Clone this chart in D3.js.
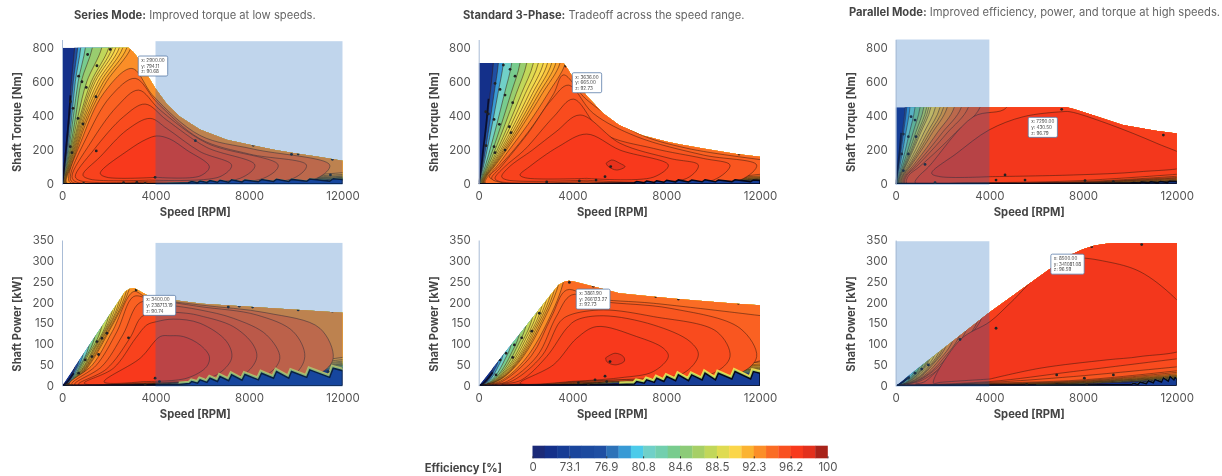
<!DOCTYPE html>
<html>
<head>
<meta charset="utf-8">
<script src="https://cdn.jsdelivr.net/npm/d3@7"></script>
<style>
  html, body { margin: 0; background: #fff; }
  svg { display: block; filter: blur(0.55px); font-family: Inter, "Open Sans", sans-serif; }
</style>
</head>
<body>
<div id="chart"></div>
<script>
// -----------------------------
// Shared axis values and colour bar
// -----------------------------
const speedTicks = [0, 4000, 8000, 12000];
const torqueTicks = [0, 200, 400, 600, 800];
const powerTicks = [0, 50, 100, 150, 200, 250, 300, 350];
const binColors = ["#1b2a78", "#14308a", "#163c95", "#1a459c", "#1c4a9f", "#1f4fa3", "#2d72b8", "#389ad5",
    "#4ccbea", "#70d0c8", "#72cfae", "#78cc8e", "#8ccb78", "#a6cf66", "#c1d75a", "#dfdb52",
    "#fbd64a", "#fbb331", "#fb8e28", "#fa6c24", "#f9501f", "#f8391c", "#e3301c", "#a8231a"];
const efficiencyLabels = ["0", "73.1", "76.9", "80.8", "84.6", "88.5", "92.3", "96.2", "100"];

// -----------------------------
// SERIES MODE - torque: [rpm, Nm], rings are [colour level, outline]
// -----------------------------
const seriesTorqueEnvelope = [[0,0],[0,800],[2850,800],[3050,775],[3300,730],[3600,650],[4000,560],[4480,470],[5050,395],[5900,320],[7044,260],[8182,226],[9178,198],[10175,176],[11028,158],[12000,137],[12000,0]];
const seriesTorqueRings = [
    [5,[[12500,24],[9000,14],[5000,4],[30,3],[40,50],[80,100],[160,200],[290,400],[400,600],[540,800],[600,950],[12500,950]]],
    [7,[[12500,26],[9000,16],[5000,5],[45,3],[60,50],[110,100],[210,200],[350,400],[480,600],[670,800],[730,950],[12500,950]]],
    [9,[[12500,28],[9000,17],[5000,5],[60,3],[75,50],[140,100],[250,200],[420,400],[570,600],[800,800],[860,950],[12500,950]]],
    [11,[[12500,30],[9000,19],[5000,6],[75,3],[90,50],[170,100],[290,200],[490,400],[690,600],[1000,800],[1070,950],[12500,950]]],
    [12.5,[[12500,32],[9000,21],[5000,6],[95,3],[110,50],[200,100],[340,200],[590,400],[820,600],[1300,800],[1380,950],[12500,950]]],
    [14,[[12500,34],[9000,23],[5000,7],[115,4],[130,50],[230,100],[380,200],[690,400],[1060,600],[1700,800],[1790,950],[12500,950]]],
    [15,[[12500,38],[9000,25],[5000,7],[135,4],[150,50],[260,100],[420,200],[780,400],[1250,600],[2000,800],[2100,950],[12500,950]]],
    [15.5,[[12500,41],[9000,26],[5000,7.5],[145,4],[160,50],[280,100],[450,200],[830,400],[1335,600],[2150,800],[2250,950],[12500,950]]],
    [16,[[12500,44],[9000,27],[5000,8],[155,4],[170,50],[300,100],[480,200],[880,400],[1420,600],[2300,800],[2400,950],[12500,950]]],
    [16.5,[[12500,48],[9000,28],[5000,8.5],[170,4],[185,50],[320,100],[510,200],[940,400],[1535,600],[2450,800],[2550,950],[12500,950]]],
    [17,[[12500,52],[9000,30],[5000,9],[185,4],[200,50],[340,100],[540,200],[1000,400],[1650,600],[2600,800],[2700,950],[12500,950]]],
    [17.5,[[12500,60],[9000,33],[5000,9.5],[200,4.5],[215,50],[370,100],[580,200],[1075,400],[1775,600],[2775,800],[2870,950],[12500,950]]],
    [18,[[12500,72],[9000,36],[5000,10],[215,5],[230,50],[400,100],[620,200],[1150,400],[1900,600],[2950,800],[3050,950],[12500,950]]],
    [18.5,[[2988,6],[350,8],[285,43],[783,239],[1779,532],[2988,678],[3913,515],[5905,285],[8182,205],[11455,111],[10886,33],[2988,6]]],
    [19,[[3130,7],[450,10],[356,43],[996,258],[2063,512],[3130,620],[4056,480],[5905,265],[8040,175],[10459,111],[9890,33],[3130,7]]],
    [19.5,[[3273,9],[600,12],[427,43],[1210,239],[2348,454],[3273,551],[4198,434],[6190,240],[9250,111],[8609,33],[3273,9]]],
    [20,[[3557,14],[800,18],[569,43],[1352,199],[2633,395],[3557,469],[4482,375],[6190,215],[8253,111],[7613,33],[3557,14]]],
    [20.5,[[3771,23],[1200,28],[896,53],[1636,160],[2775,317],[3771,385],[4482,326],[5905,190],[7257,111],[6759,43],[3771,23]]],
    [21,[[4056,39],[1900,40],[1636,63],[2846,199],[3600,262],[4056,282],[4600,265],[5336,199],[6304,102],[5905,47],[4056,39]]]
];
const seriesTorqueTeeth = [[0,2],[3000,2],[4500,3],[5400,7],[5550,14],[5800,8],[5905,17],[6200,9],[6330,20],[6650,10],[6760,22],[7130,11],[7257,25],[7700,12],[7826,24],[8400,13],[8537,26],[9050,15],[9178,28],[9700,15],[9818,27],[10470,16],[10600,29],[11450,17],[11600,31],[12000,26],[12000,0],[0,0]];
const seriesTorqueEdge = [[20,0],[60,50],[100,100],[170,200],[300,400],[360,520]];
const seriesTorqueMarkers = [[1096,760],[2063,790],[1494,694],[711,633],[854,600],[1039,567],[1451,512],[683,385],[896,352],[356,219],[427,184],[1466,194],[470,444],[356,483],[3984,39],[5706,254],[8182,227],[9819,174],[10103,176],[11569,145],[11484,53],[3202,10],[3557,4],[2633,8],[925,4]];
const seriesTorqueTip = { at: [3262, 751], text: ["x: 2900.00", "y: 794.11", "z: 90.68"] };

// -----------------------------
// SERIES MODE - power: [rpm, kW]
// -----------------------------
const seriesPowerEnvelope = [[0,0],[2700,226],[2900,233],[3100,234],[3300,228],[3630,218],[4000,212],[5000,204],[6000,197],[7000,193],[8200,189],[9000,186],[10200,182],[11000,179],[12000,175],[12000,0]];
const seriesPowerRings = [
    [5,[[12500,40],[9000,26],[5000,5],[70,.5],[160,3.4],[290,12],[400,25],[540,45],[620,400],[12500,400]]],
    [7,[[12500,42],[9000,28],[5000,5],[85,.5],[210,4.4],[370,15.5],[520,33],[720,60],[800,400],[12500,400]]],
    [9,[[12500,44],[9000,30],[5000,6],[100,.5],[260,5.4],[440,18],[640,40],[900,75],[980,400],[12500,400]]],
    [11,[[12500,45],[9000,31],[5000,6],[120,.6],[300,6],[520,22],[770,48],[1150,96],[1230,400],[12500,400]]],
    [12.5,[[12500,47],[9000,33],[5000,7],[140,.7],[340,7],[600,25],[890,56],[1400,117],[1480,400],[12500,400]]],
    [14,[[12500,50],[9000,36],[5000,8],[160,.8],[380,8],[690,29],[1060,67],[1700,142],[1790,400],[12500,400]]],
    [15,[[12500,52],[9000,37],[5000,8],[180,.9],[420,9],[780,33],[1250,79],[2000,168],[2100,400],[12500,400]]],
    [15.5,[[12500,54],[9000,37],[5000,8],[190,1],[450,9.5],[830,35],[1335,84],[2150,180],[2250,400],[12500,400]]],
    [16,[[12500,56],[9000,38],[5000,9],[200,1],[480,10],[880,37],[1420,89],[2300,193],[2400,400],[12500,400]]],
    [16.5,[[12500,59],[9000,39],[5000,9],[215,1.1],[510,10.5],[940,39],[1535,96],[2450,205],[2560,400],[12500,400]]],
    [17,[[12500,62],[9000,40],[5000,10],[230,1.2],[540,11],[1000,42],[1650,104],[2600,218],[2720,400],[12500,400]]],
    [17.5,[[12500,66],[9000,42],[5000,10],[245,1.3],[580,12],[1075,45],[1775,111],[2775,232],[2880,400],[12500,400]]],
    [18,[[12500,72],[9000,44],[5000,11],[260,1.4],[620,13],[1150,48],[1900,119],[2950,247],[3050,400],[12500,400]]],
    [18.5,[[8040,14],[3000,7],[320,4],[1300,50],[2150,130],[3060,226],[3630,212],[5905,194],[8750,175],[11030,138],[11600,66],[11030,30],[8040,14]]],
    [19,[[7328,14],[3000,6],[420,3.5],[1450,48],[2350,130],[3060,214],[3771,208],[5905,190],[8325,170],[9890,130],[10387,70],[9890,26],[7328,14]]],
    [19.5,[[6617,11],[3000,5],[540,3],[1700,46],[2600,122],[3344,200],[4482,194],[5905,182],[7328,162],[8750,122],[9320,66],[8750,26],[6617,11]]],
    [20,[[6190,10],[3000,5],[700,3],[1900,40],[2900,114],[3415,166],[4056,176],[5336,174],[5905,168],[7328,142],[8182,98],[8325,66],[7755,26],[6190,10]]],
    [20.5,[[5336,10],[3000,6],[950,6],[2200,42],[3150,114],[3630,146],[4056,154],[4767,160],[5905,150],[7044,106],[7257,66],[6617,26],[5336,10]]],
    [21,[[3500,10],[1800,9],[3344,66],[4198,118],[4625,120],[5194,118],[5905,98],[6304,70],[6190,46],[5336,18],[3500,10]]]
];
const seriesPowerTeeth = [[0,1],[2000,1.5],[4000,2],[5000,3],[5450,5],[5550,10],[5800,6],[5905,14],[6200,8],[6330,18],[6650,10],[6760,22],[7130,12],[7257,26],[7700,13],[7826,27],[8400,14],[8537,30],[9050,18],[9178,34],[9700,18],[9818,34],[10470,20],[10600,38],[11450,20],[11600,42],[12000,36],[12000,0],[0,0]];
const seriesPowerEdge = [[0,0],[200,8],[500,30]];
const seriesPowerMarkers = [[3173,230],[2846,115],[1921,126],[1708,114],[1494,106],[1565,75],[1281,70],[996,62],[711,30],[7115,189],[7585,191],[8154,189],[10103,182],[11569,179],[3984,18],[4169,10],[3557,2],[11384,34]];
const seriesPowerTip = { at: [3472, 217], text: ["x: 3400.00", "y: 238713.19", "z: 90.74"] };

// -----------------------------
// STANDARD 3-PHASE - torque
// -----------------------------
const standardTorqueEnvelope = [[0,0],[0,710],[3620,710],[3780,680],[4040,620],[4600,520],[5300,415],[6000,345],[7000,285],[8000,250],[8500,235],[9700,205],[11000,176],[12000,160],[12000,0]];
const standardTorqueRings = [
    [5,[[12500,20],[9000,13],[5000,4],[40,3],[66,50],[118,100],[213,200],[343,350],[488,530],[626,710],[680,900],[12500,900]]],
    [7,[[12500,22],[9000,14],[5000,5],[55,3],[88,50],[159,100],[285,200],[460,350],[654,530],[839,710],[890,900],[12500,900]]],
    [9,[[12500,24],[9000,15],[5000,5],[70,3],[110,50],[199,100],[358,200],[576,350],[820,530],[1052,710],[1110,900],[12500,900]]],
    [11,[[12500,25],[9000,16],[5000,6],[95,3],[148,50],[266,100],[479,200],[772,350],[1098,530],[1408,710],[1470,900],[12500,900]]],
    [12.5,[[12500,27],[9000,17],[5000,6],[125,3],[185,50],[333,100],[599,200],[966,350],[1375,530],[1763,710],[1830,900],[12500,900]]],
    [14,[[12500,29],[9000,18],[5000,7],[145,4],[215,50],[387,100],[697,200],[1123,350],[1599,530],[2050,710],[2120,900],[12500,900]]],
    [15,[[12500,31],[9000,19],[5000,7],[165,4],[245,50],[441,100],[793,200],[1278,350],[1819,530],[2332,710],[2400,900],[12500,900]]],
    [15.5,[[12500,32],[9000,20],[5000,7],[180,4],[267,50],[481,100],[865,200],[1395,350],[1985,530],[2545,710],[2620,900],[12500,900]]],
    [16,[[12500,34],[9000,21],[5000,8],[195,4],[290,50],[521,100],[938,200],[1512,350],[2152,530],[2759,710],[2840,900],[12500,900]]],
    [16.5,[[12500,36],[9000,22],[5000,8],[210,4],[308,50],[555,100],[998,200],[1609,350],[2290,530],[2936,710],[3020,900],[12500,900]]],
    [17,[[12500,38],[9000,23],[5000,8],[225,4],[327,50],[589,100],[1059,200],[1706,350],[2429,530],[3114,710],[3200,900],[12500,900]]],
    [17.5,[[12500,41],[9000,24],[5000,8.5],[240,4.5],[345,50],[622,100],[1120,200],[1804,350],[2568,530],[3292,710],[3380,900],[12500,900]]],
    [18,[[12500,44],[9000,26],[5000,9],[255,5],[364,50],[656,100],[1180,200],[1902,350],[2707,530],[3470,710],[3560,900],[12500,900]]],
    [18.5,[[12500,50],[9000,28],[5000,10],[285,5],[420,50],[750,100],[1300,200],[2100,350],[2950,530],[3700,710],[3800,900],[12500,900]]],
    [19,[[12500,65],[10000,30],[6000,11],[2000,6],[460,40],[850,100],[1500,200],[2350,350],[3200,530],[3612,640],[4607,495],[6740,300],[8873,210],[12500,135]]],
    [19.5,[[6800,9],[1000,8],[555,33],[950,100],[2100,297],[3100,493],[3825,580],[4892,414],[6740,278],[9584,170],[11859,111],[11148,23],[6800,9]]],
    [20,[[4607,14],[900,14],[697,33],[1100,100],[1950,200],[3200,395],[4038,498],[5318,297],[7451,209],[9584,150],[10722,111],[10011,23],[4607,14]]],
    [20.5,[[4607,22],[1200,24],[981,43],[1300,100],[2300,200],[3300,307],[4323,405],[6029,239],[8162,150],[9371,111],[8873,33],[4607,22]]],
    [21,[[4607,33],[2000,36],[1763,53],[2150,100],[3400,219],[4607,293],[6029,199],[8091,111],[7451,40],[4607,33]]],
    [22,[[5432,121],[5674,141],[6029,121],[6242,102],[5887,82],[5532,102],[5432,121]]]
];
const standardTorqueTeeth = [[0,2],[3000,2],[5000,3],[6640,8],[6740,14],[7060,8],[7166,17],[7490,9],[7593,19],[7900,10],[8020,22],[8400,12],[8518,24],[8950,12],[9087,23],[9530,13],[9655,25],[10100,13],[10224,24],[10800,14],[10935,25],[11600,14],[11717,24],[12000,20],[12000,0],[0,0]];
const standardTorqueEdge = [[20,0],[60,50],[110,100],[190,200],[320,350],[420,500]];
const standardTorqueMarkers = [[3711,692],[1052,698],[1337,673],[1550,633],[697,590],[910,555],[1123,522],[1450,477],[300,424],[412,411],[654,379],[882,350],[1308,336],[1379,301],[313,225],[654,219],[697,184],[1123,199],[5631,102],[5389,43],[5005,23],[4294,18],[2900,12],[8518,242],[11106,176]];
const standardTorqueTip = { at: [3994, 653], text: ["x: 3636.00", "y: 665.00", "z: 92.73"] };

// -----------------------------
// STANDARD 3-PHASE - power
// -----------------------------
const standardPowerEnvelope = [[0,0],[3400,242],[3650,250],[3850,252],[4100,250],[4900,238],[6000,222],[7600,213],[8500,208],[11000,197],[12000,193],[12000,0]];
const standardPowerRings = [
    [5,[[12500,30],[9000,22],[5000,4],[50,.4],[118,1.2],[213,4.5],[343,12.6],[488,27],[626,46],[680,400],[12500,400]]],
    [7,[[12500,32],[9000,23],[5000,4],[70,.5],[159,2.6],[285,6],[460,17],[654,36],[839,62],[900,400],[12500,400]]],
    [9,[[12500,34],[9000,25],[5000,5],[85,.5],[199,2.8],[358,7.5],[576,21],[820,45],[1052,78],[1120,400],[12500,400]]],
    [11,[[12500,36],[9000,26],[5000,5],[110,.6],[266,2.8],[479,10],[772,28],[1098,61],[1408,105],[1470,400],[12500,400]]],
    [12.5,[[12500,38],[9000,28],[5000,6],[140,.7],[333,3.5],[599,12.5],[966,35],[1375,76],[1763,131],[1830,400],[12500,400]]],
    [14,[[12500,40],[9000,29],[5000,6],[160,.8],[387,4],[697,15],[1123,41],[1599,89],[2050,152],[2130,400],[12500,400]]],
    [15,[[12500,42],[9000,30],[5000,7],[180,.9],[441,4.6],[793,17],[1278,47],[1819,101],[2332,173],[2410,400],[12500,400]]],
    [15.5,[[12500,43],[9000,31],[5000,7],[195,1],[481,5],[865,18.5],[1395,51],[1985,110],[2545,189],[2630,400],[12500,400]]],
    [16,[[12500,45],[9000,32],[5000,8],[210,1],[521,5.5],[938,20],[1512,55],[2152,119],[2759,205],[2850,400],[12500,400]]],
    [16.5,[[12500,47],[9000,33],[5000,8],[225,1.1],[555,5.8],[998,21],[1609,58],[2290,127],[2936,218],[3030,400],[12500,400]]],
    [17,[[12500,50],[9000,34],[5000,8],[240,1.2],[589,6],[1059,22],[1706,62],[2429,135],[3114,231],[3220,400],[12500,400]]],
    [17.5,[[12500,52],[9000,35],[5000,8.5],[255,1.3],[622,6.5],[1120,23.5],[1804,66],[2568,142],[3292,245],[3390,400],[12500,400]]],
    [18,[[12500,55],[9000,36],[5000,9],[270,1.4],[656,7],[1180,25],[1902,70],[2707,150],[3470,258],[3560,400],[12500,400]]],
    [18.5,[[12500,60],[9000,38],[5000,10],[300,1.5],[800,8],[1350,27],[2100,72],[2950,155],[3650,258],[3800,400],[12500,400]]],
    [19,[[12500,68],[10000,32],[6000,12],[2000,4],[420,2],[1000,10],[2250,72],[3100,165],[3754,230],[4892,210],[7451,198],[12500,165]]],
    [19.5,[[8162,15],[3000,6],[555,2],[1200,10],[2500,72],[3300,165],[3967,218],[5318,202],[8162,186],[11148,138],[11859,70],[11148,30],[8162,15]]],
    [20,[[7451,18],[3000,7],[697,2],[1450,12],[2700,72],[3470,154],[3896,170],[5318,182],[7451,166],[10153,130],[10722,70],[10011,30],[7451,18]]],
    [20.5,[[6740,16],[3000,8],[981,3],[1800,13],[2900,70],[3754,138],[4181,158],[5318,168],[7451,146],[9015,106],[9371,74],[8731,30],[6740,16]]],
    [21,[[3896,10],[1763,6],[3185,50],[4181,114],[5034,142],[6740,118],[7878,90],[8091,70],[7451,34],[6029,19],[3896,10]]],
    [22,[[5418,67],[5816,78],[6171,70],[6214,59],[5816,50],[5460,58],[5418,67]]]
];
const standardPowerTeeth = [[0,1],[2000,1.5],[4000,2],[6000,3],[6640,4],[6740,10],[7060,6],[7166,14],[7490,8],[7593,18],[7900,10],[8020,22],[8400,12],[8518,26],[8950,12],[9087,26],[9530,14],[9655,30],[10100,14],[10224,30],[10800,16],[10935,34],[11600,16],[11717,34],[12000,30],[12000,0],[0,0]];
const standardPowerEdge = [[0,0],[200,6],[600,32]];
const standardPowerMarkers = [[3868,248],[4892,239],[7551,214],[8518,208],[11077,198],[2588,174],[2261,131],[1834,115],[1522,98],[1450,68],[1166,78],[910,62],[739,26],[5603,58],[5389,23],[4963,14],[5460,10],[4252,7],[4678,2]];
const standardPowerTip = { at: [4160, 232], text: ["x: 3861.90", "y: 266123.27", "z: 92.73"] };

// -----------------------------
// PARALLEL MODE - torque
// -----------------------------
const parallelTorqueEnvelope = [[0,0],[0,450],[7300,450],[7600,440],[8500,400],[9700,346],[11100,313],[12000,297],[12000,0]];
const parallelTorqueRings = [
    [5,[[12500,14],[8000,5],[3000,2],[40,2],[62,50],[111,100],[201,200],[283,300],[400,450],[460,700],[12500,700]]],
    [7,[[12500,15],[8000,5],[3000,2],[50,2],[72,50],[131,100],[236,200],[333,300],[470,450],[530,700],[12500,700]]],
    [9,[[12500,16],[8000,6],[3000,2],[70,2],[94,50],[170,100],[306,200],[432,300],[610,450],[670,700],[12500,700]]],
    [11,[[12500,17],[8000,6],[3000,3],[100,2],[127,50],[229,100],[414,200],[584,300],[825,450],[880,700],[12500,700]]],
    [12.5,[[12500,18],[8000,7],[3000,3],[130,3],[160,50],[289,100],[522,200],[736,300],[1040,450],[1100,700],[12500,700]]],
    [14,[[12500,19],[8000,7],[3000,3],[150,3],[185,50],[334,100],[602,200],[850,300],[1200,450],[1260,700],[12500,700]]],
    [15,[[12500,20],[8000,8],[3000,3],[170,3],[204,50],[368,100],[665,200],[937,300],[1324,450],[1390,700],[12500,700]]],
    [15.5,[[12500,21],[8000,8],[3000,3.5],[180,3],[217,50],[392,100],[709,200],[1000,300],[1412,450],[1480,700],[12500,700]]],
    [16,[[12500,22],[8000,8],[3000,4],[190,3],[231,50],[417,100],[753,200],[1062,300],[1500,450],[1570,700],[12500,700]]],
    [16.5,[[12500,24],[8000,8.5],[3000,4],[215,3.5],[260,50],[470,100],[850,200],[1200,300],[1696,450],[1770,700],[12500,700]]],
    [17,[[12500,26],[8000,9],[3000,4],[240,4],[292,50],[526,100],[950,200],[1340,300],[1893,450],[1970,700],[12500,700]]],
    [17.5,[[12500,28],[8000,9.5],[3000,4],[260,4],[315,50],[570,100],[1027,200],[1450,300],[2046,450],[2125,700],[12500,700]]],
    [18,[[12500,30],[8000,10],[3000,4],[280,4],[339,50],[612,100],[1104,200],[1558,300],[2200,450],[2280,700],[12500,700]]],
    [18.5,[[12500,34],[8000,11],[3000,5],[320,4],[385,50],[695,100],[1255,200],[1770,300],[2500,450],[2580,700],[12500,700]]],
    [19,[[12500,38],[8000,12],[3000,5],[360,4],[431,50],[778,100],[1406,200],[1982,300],[2800,450],[2880,700],[12500,700]]],
    [19.5,[[12500,42],[8000,13],[3000,5],[400,4],[477,50],[862,100],[1556,200],[2195,300],[3100,450],[3180,700],[12500,700]]],
    [20,[[12500,50],[8000,14],[3000,6],[470,5],[554,50],[1000,100],[1807,200],[2549,300],[3600,450],[3700,700],[12500,700]]],
    [20.7,[[12500,62],[7587,18],[3000,7],[830,7],[968,43],[1400,100],[3317,395],[4740,450],[4900,700],[12500,700]]],
    [21.3,[[4028,43],[1893,43],[1537,63],[2605,180],[3986,317],[5452,395],[7089,424],[7445,424],[9011,356],[11145,239],[12500,150],[12500,110],[10434,72],[7587,53],[4028,43]]]
];
const parallelTorqueTeeth = [[0,3],[6000,3],[9000,4],[10000,5],[10150,9],[10400,6],[10500,11],[10800,7],[10900,13],[11200,8],[11300,15],[11600,9],[11700,16],[12000,15],[12000,0],[0,0]];
const parallelTorqueEdge = [[20,0],[50,50],[90,100],[170,200],[230,300]];
const parallelTorqueMarkers = [[655,395],[826,375],[327,293],[541,278],[868,278],[256,176],[541,176],[327,78],[1253,115],[4285,23],[4669,53],[5523,23],[1680,8],[7089,438],[11431,287],[8085,20],[9296,14]];
const parallelTorqueTip = { at: [5660, 391], text: ["x: 7290.00", "y: 430.50", "z: 96.79"] };

// -----------------------------
// PARALLEL MODE - power
// -----------------------------
const parallelPowerEnvelope = [[0,0],[4000,176],[6700,285],[7000,298],[7500,315],[8000,328],[8500,337],[9000,341],[9500,343],[12000,343],[12000,0]];
const parallelPowerRings = [
    [5,[[12500,16],[8000,5],[3000,1.5],[40,.4],[111,1.1],[201,4.2],[283,8.9],[400,19],[440,400],[12500,400]]],
    [7,[[12500,17],[8000,5],[3000,1.5],[50,.4],[131,1.3],[236,5],[333,10.5],[470,22],[510,400],[12500,400]]],
    [9,[[12500,18],[8000,6],[3000,2],[70,.4],[170,1.8],[306,6.4],[432,13.6],[610,29],[650,400],[12500,400]]],
    [11,[[12500,19],[8000,6],[3000,2],[90,.5],[229,2.4],[414,8.7],[584,18],[825,39],[870,400],[12500,400]]],
    [12.5,[[12500,20],[8000,7],[3000,2],[110,.6],[289,3],[522,11],[736,23],[1040,49],[1090,400],[12500,400]]],
    [14,[[12500,21],[8000,7],[3000,2],[130,.7],[334,3.5],[602,12.6],[850,27],[1200,57],[1250,400],[12500,400]]],
    [15,[[12500,22],[8000,8],[3000,2.5],[150,.8],[368,3.9],[665,14],[937,29],[1324,62],[1380,400],[12500,400]]],
    [15.5,[[12500,22.5],[8000,8],[3000,2.7],[160,.8],[392,4.1],[709,15],[1000,31],[1412,66],[1470,400],[12500,400]]],
    [16,[[12500,23],[8000,8],[3000,3],[170,.9],[417,4.4],[753,16],[1062,33],[1500,71],[1560,400],[12500,400]]],
    [16.5,[[12500,24],[8000,8.5],[3000,3],[185,1],[470,5],[850,18],[1200,38],[1696,80],[1770,400],[12500,400]]],
    [17,[[12500,25],[8000,9],[3000,3],[200,1],[526,5.5],[950,20],[1340,42],[1893,89],[1970,400],[12500,400]]],
    [17.5,[[12500,26.5],[8000,9.5],[3000,3],[215,1.1],[570,6],[1027,21.5],[1450,45.5],[2046,96],[2125,400],[12500,400]]],
    [18,[[12500,28],[8000,10],[3000,3],[230,1.2],[612,6.4],[1104,23],[1558,49],[2200,104],[2280,400],[12500,400]]],
    [18.5,[[12500,31],[8000,11],[3000,4],[260,1.4],[695,7],[1255,26],[1770,56],[2500,118],[2580,400],[12500,400]]],
    [19,[[12500,35],[8000,12],[3000,4],[300,1.5],[778,8],[1406,29],[1982,62],[2800,132],[2880,400],[12500,400]]],
    [19.5,[[12500,39],[8000,14],[3000,5],[340,1.8],[862,9],[1556,33],[2195,69],[3100,146],[3180,400],[12500,400]]],
    [20,[[12500,48],[7587,22],[4028,8],[500,3],[1000,10],[1807,38],[2549,80],[3600,170],[3700,400],[12500,400]]],
    [20.7,[[12500,68],[7587,34],[4028,10],[850,4],[1250,10],[2605,90],[3601,154],[5000,400],[12500,400]]],
    [21.3,[[4028,16],[1900,8],[1609,6],[2747,110],[4028,154],[4883,198],[6449,282],[7587,306],[9011,298],[10434,274],[11858,214],[12500,170],[12500,95],[10434,70],[9011,62],[6164,42],[4028,16]]]
];
const parallelPowerTeeth = [[0,1],[6000,1.5],[9000,2],[10050,2],[10150,6],[10350,3],[10434,9],[10700,5],[10790,12],[11000,7],[11075,15],[11350,9],[11431,19],[11640,11],[11716,22],[11880,14],[11929,20],[12000,17],[12000,0],[0,0]];
const parallelPowerEdge = [[0,0],[200,5],[600,22]];
const parallelPowerMarkers = [[2747,111],[4285,138],[1395,50],[1110,40],[826,30],[541,18],[8370,334],[10505,339],[6875,26],[8057,18],[9296,26],[5594,3],[6875,3],[8157,2]];
const parallelPowerTip = { at: [6626, 316], text: ["x: 8500.00", "y: 341081.08", "z: 96.59"] };

// Shaded inactive speed bands: [from rpm, to rpm, top value]
const seriesTorqueShade = [4000, 12000, 838];
const seriesPowerShade = [4000, 12000, 343];
const parallelTorqueShade = [0, 4000, 848];
const parallelPowerShade = [0, 4000, 347];

const width = 1222, height = 476;
const inactive = { fill: "rgb(22,100,185)", opacity: 0.27 };

// --- Colour for a (possibly fractional) bin level ---
const levelColor = d3.scaleLinear().domain(binColors.map((c, i) => i)).range(binColors);
// the upper rings sit redder in the map than their place on the bar
const ringColor = l => levelColor(l > 18 ? 18.6 + (l - 18) * 0.8 : l);

const svg = d3.select("#chart").append("svg")
    .attr("width", width)
    .attr("height", height);

// -----------------------------
// DRAW ONE MAP PANEL
// -----------------------------
const drawPanel = (p, id) => {
    const x = d3.scaleLinear().domain([0, 12000]).range(p.xRange);
    const y = d3.scaleLinear().domain(p.yDomain).range(p.yRange);

    const smooth = d3.line().x(d => x(d[0])).y(d => y(d[1])).curve(d3.curveCatmullRom.alpha(0.5));
    const straight = d3.line().x(d => x(d[0])).y(d => y(d[1]));

    svg.append("clipPath").attr("id", id)
        .append("path").attr("d", straight(p.envelope) + "Z");

    const map = svg.append("g").attr("clip-path", `url(#${id})`);

    map.append("path")
        .attr("d", straight(p.envelope) + "Z")
        .attr("fill", levelColor(1));

    map.selectAll(".ring")
        .data(p.rings)
        .join("path")
        .attr("class", "ring")
        .attr("d", d => smooth(d[1]) + "Z")
        .attr("fill", d => ringColor(d[0]))
        .attr("stroke", "#3a1a10")
        .attr("stroke-opacity", 0.75)
        .attr("stroke-width", 0.7);

    // sawtooth low-efficiency region along the bottom, with its green and yellow halo
    const toothRun = p.teeth.filter(d => d[0] >= 4500 && d[1] > 0);
    p.halo.forEach(h => {
        map.append("path")
            .attr("d", straight(toothRun))
            .attr("fill", "none")
            .attr("stroke", levelColor(h[0]))
            .attr("stroke-width", h[1]);
    });
    map.append("path")
        .attr("d", straight(p.teeth) + "Z")
        .attr("fill", levelColor(2))
        .attr("stroke", "#050818")
        .attr("stroke-width", 1.5);

    map.append("path")
        .attr("d", smooth(p.edge))
        .attr("fill", "none")
        .attr("stroke", "#0a0f2e")
        .attr("stroke-width", 1.7);

    map.selectAll("circle")
        .data(p.markers)
        .join("circle")
        .attr("cx", d => x(d[0]))
        .attr("cy", d => y(d[1]))
        .attr("r", 1.4)
        .attr("fill", "#222");

    if (p.shade) {
        svg.append("rect")
            .attr("x", x(p.shade[0]))
            .attr("y", y(p.shade[2]))
            .attr("width", x(p.shade[1]) - x(p.shade[0]))
            .attr("height", y(0) + 1 - y(p.shade[2]))
            .attr("fill", inactive.fill)
            .attr("opacity", inactive.opacity);
    }

    // --- Axes ---
    const yAxis = svg.append("g")
        .attr("transform", `translate(${p.xRange[0]},0)`)
        .call(d3.axisLeft(y).tickValues(p.yTicks).tickSize(0).tickPadding(8));
    yAxis.attr("font-family", null).attr("font-size", 11.5);
    yAxis.select(".domain").attr("stroke", "#a9bcd6");
    yAxis.selectAll("text").attr("fill", "#555");

    const xAxis = svg.append("g")
        .attr("transform", `translate(0,${y(0)})`)
        .call(d3.axisBottom(x).tickValues(speedTicks).tickSize(0).tickPadding(8).tickFormat(d3.format("d")));
    xAxis.attr("font-family", null).attr("font-size", 11.5);
    xAxis.select(".domain").remove();
    xAxis.selectAll("text").attr("fill", "#555");

    // X-axis label
    svg.append("text")
        .attr("text-anchor", "middle")
        .attr("x", (p.xRange[0] + p.xRange[1]) / 2 - 7)
        .attr("y", y(0) + 32)
        .attr("fill", "#444")
        .style("font-size", "11.2px")
        .style("font-weight", "bold")
        .text("Speed [RPM]");

    // Y-axis label
    svg.append("text")
        .attr("text-anchor", "middle")
        .attr("transform", `translate(${p.xRange[0] - 41},${p.yLabelAt}) rotate(-90)`)
        .attr("fill", "#444")
        .style("font-size", "11.2px")
        .style("font-weight", "bold")
        .text(p.yLabel);

    // --- Hover label box, frozen as in the screenshot ---
    const tip = svg.append("g")
        .attr("transform", `translate(${x(p.tip.at[0])},${y(p.tip.at[1])})`);
    const box = tip.append("rect")
        .attr("height", 20)
        .attr("rx", 1.5)
        .attr("fill", "#fff")
        .attr("stroke", "#5b7ca8")
        .attr("stroke-width", 0.8);
    const lines = tip.selectAll("text")
        .data(p.tip.text)
        .join("text")
        .attr("x", 3)
        .attr("y", (d, i) => 6 + i * 5.6)
        .attr("fill", "#444")
        .style("font-size", "4.6px")
        .text(d => d);
    box.attr("width", d3.max(lines.nodes(), n => n.getComputedTextLength()) + 6);
};

// Torque panels run to the top of the shaded band, power panels stop at the 350 tick
const torqueDomain = [0, 848], torqueRange = [184, 39.5];
const powerDomain = [0, 350], powerRange = [385.7, 240];
const torqueLabel = { yDomain: torqueDomain, yRange: torqueRange, yTicks: torqueTicks, yLabel: "Shaft Torque [Nm]", yLabelAt: 122 };
const powerLabel = { yDomain: powerDomain, yRange: powerRange, yTicks: powerTicks, yLabel: "Shaft Power [kW]", yLabelAt: 324 };
const toothHalo = [[15.5, 6], [13, 3.5]];
const thinHalo = [[13, 1.5]];

drawPanel({ ...torqueLabel, xRange: [62, 342.5], halo: thinHalo,
    envelope: seriesTorqueEnvelope, rings: seriesTorqueRings, teeth: seriesTorqueTeeth, edge: seriesTorqueEdge,
    markers: seriesTorqueMarkers, tip: seriesTorqueTip, shade: seriesTorqueShade }, "clip-a");
drawPanel({ ...powerLabel, xRange: [62, 342.5], halo: toothHalo,
    envelope: seriesPowerEnvelope, rings: seriesPowerRings, teeth: seriesPowerTeeth, edge: seriesPowerEdge,
    markers: seriesPowerMarkers, tip: seriesPowerTip, shade: seriesPowerShade }, "clip-b");
drawPanel({ ...torqueLabel, xRange: [478.7, 760], halo: [],
    envelope: standardTorqueEnvelope, rings: standardTorqueRings, teeth: standardTorqueTeeth, edge: standardTorqueEdge,
    markers: standardTorqueMarkers, tip: standardTorqueTip }, "clip-c");
drawPanel({ ...powerLabel, xRange: [478.7, 760], halo: toothHalo,
    envelope: standardPowerEnvelope, rings: standardPowerRings, teeth: standardPowerTeeth, edge: standardPowerEdge,
    markers: standardPowerMarkers, tip: standardPowerTip }, "clip-d");
drawPanel({ ...torqueLabel, xRange: [895.7, 1176.7], halo: [],
    envelope: parallelTorqueEnvelope, rings: parallelTorqueRings, teeth: parallelTorqueTeeth, edge: parallelTorqueEdge,
    markers: parallelTorqueMarkers, tip: parallelTorqueTip, shade: parallelTorqueShade }, "clip-e");
drawPanel({ ...powerLabel, xRange: [895.7, 1176.7], halo: thinHalo,
    envelope: parallelPowerEnvelope, rings: parallelPowerRings, teeth: parallelPowerTeeth, edge: parallelPowerEdge,
    markers: parallelPowerMarkers, tip: parallelPowerTip, shade: parallelPowerShade }, "clip-f");

// -----------------------------
// PANEL TITLES
// -----------------------------
const titles = [
    { x: 74, y: 19, head: "Series Mode:", body: " Improved torque at low speeds." },
    { x: 463, y: 19, head: "Standard 3-Phase:", body: " Tradeoff across the speed range." },
    { x: 849, y: 16, head: "Parallel Mode:", body: " Improved efficiency, power, and torque at high speeds." }
];
titles.forEach(t => {
    const label = svg.append("text")
        .attr("x", t.x)
        .attr("y", t.y)
        .style("font-size", "11.2px");
    label.append("tspan").attr("font-weight", "bold").attr("fill", "#444").text(t.head);
    label.append("tspan").attr("fill", "#666").text(t.body);
});

// -----------------------------
// COLOUR BAR
// -----------------------------
const barX = d3.scaleBand().domain(binColors).range([532.5, 827.5]);
const barTicks = d3.scalePoint().domain(efficiencyLabels).range([532.5, 827.5]);

svg.selectAll(".bin")
    .data(binColors)
    .join("rect")
    .attr("class", "bin")
    .attr("x", d => barX(d))
    .attr("y", 445.7)
    .attr("width", barX.bandwidth() + 0.3)
    .attr("height", 12.6)
    .attr("fill", d => d);

const barAxis = svg.append("g")
    .attr("transform", "translate(0,458.3)")
    .call(d3.axisBottom(barTicks).tickSizeInner(-2).tickSizeOuter(0).tickPadding(5));
barAxis.attr("font-family", null).attr("font-size", 11.5);
barAxis.select(".domain").remove();
barAxis.selectAll("line").attr("stroke", "#333");
barAxis.selectAll("text").attr("fill", "#555");

svg.append("text")
    .attr("text-anchor", "middle")
    .attr("x", 463.3)
    .attr("y", 471.5)
    .attr("fill", "#444")
    .style("font-size", "11.2px")
    .style("font-weight", "bold")
    .text("Efficiency [%]");
</script>
</body>
</html>
